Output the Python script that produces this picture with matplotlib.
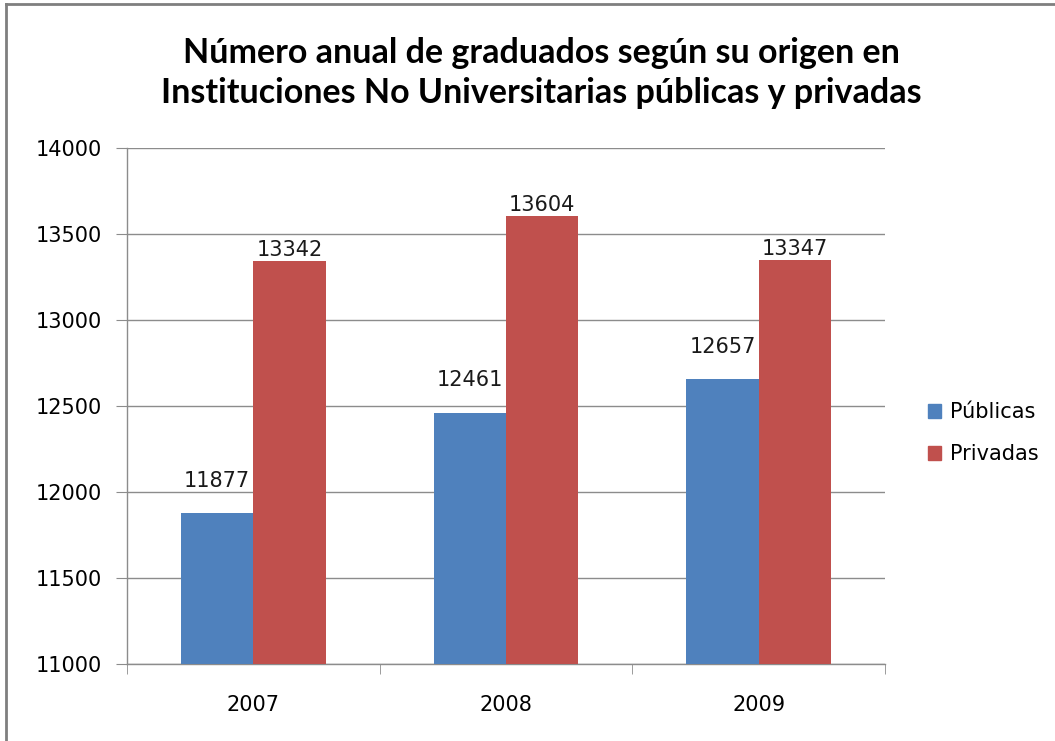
import matplotlib
matplotlib.use("Agg")
import matplotlib.pyplot as plt
import numpy as np
from matplotlib.patches import Patch
from matplotlib.lines import Line2D

years = ["2007", "2008", "2009"]
publicas = [11877, 12461, 12657]
privadas = [13342, 13604, 13347]
series_names = ["Públicas", "Privadas"]
colors = ["#4F81BD", "#C0504D"]
yticks = [11000, 11500, 12000, 12500, 13000, 13500, 14000]

plt.rcParams['font.family'] = ['Lato', 'DejaVu Sans']

fig = plt.figure(figsize=(10.55, 7.41), dpi=100)
ax = fig.add_axes([127/1055, 1-664/741, (885-127)/1055, (664-148)/741])

x = np.arange(len(years))
w = 1/3.5
ax.bar(x - w/2, publicas, width=w, color=colors[0], zorder=3, label=series_names[0])
ax.bar(x + w/2, privadas, width=w, color=colors[1], zorder=3, label=series_names[1])

lab_font = dict(fontsize=15, color='#1a1a1a', family=['DejaVu Sans'])
for xi, v in zip(x - w/2, publicas):
    ax.annotate(str(v), (xi, v), xytext=(0, 16), textcoords='offset points',
                ha='center', va='bottom', **lab_font)
for xi, v in zip(x + w/2, privadas):
    ax.annotate(str(v), (xi, v), xytext=(0, 1), textcoords='offset points',
                ha='center', va='bottom', **lab_font)

ax.set_xlim(-0.5, 2.5)
ax.set_ylim(11000, 14000)
ax.set_yticks(yticks)
ax.set_yticklabels([str(t) for t in yticks], fontsize=15, family=['DejaVu Sans'])
ax.set_xticks(x)
ax.set_xticklabels(years, fontsize=15, family=['DejaVu Sans'])
ax.set_xticks([-0.5, 0.5, 1.5, 2.5], minor=True)
ax.tick_params(axis='x', which='major', length=0, pad=22)
ax.tick_params(axis='x', which='minor', length=7, color='#8c8c8c', direction='out')
ax.tick_params(axis='y', length=8, color='#8c8c8c', pad=10)
ax.yaxis.grid(True, color='#8c8c8c', linewidth=1, zorder=0)
for s in ['top', 'right']:
    ax.spines[s].set_visible(False)
for s in ['left', 'bottom']:
    ax.spines[s].set_color('#8c8c8c')
    ax.spines[s].set_linewidth(1)

fig.text(541/1055, 1-53/741, "Número anual de graduados según su origen en",
         ha='center', va='center', fontsize=24.5, fontweight='bold')
fig.text(541/1055, 1-93/741, "Instituciones No Universitarias públicas y privadas",
         ha='center', va='center', fontsize=24.5, fontweight='bold')

handles = [Patch(color=colors[0]), Patch(color=colors[1])]
fig.legend(handles, series_names, loc='center left', bbox_to_anchor=(909/1055, 1-433/741),
           frameon=False, handlelength=0.65, handleheight=0.65,
           handletextpad=0.4, labelspacing=1.05, prop={'family': ['DejaVu Sans'], 'size': 15})

# figure border (top and left)
fig.add_artist(Line2D([6/1055, 6/1055], [0, 1-4/741], transform=fig.transFigure, color='#7f7f7f', lw=2))
fig.add_artist(Line2D([6/1055, 1], [1-4/741, 1-4/741], transform=fig.transFigure, color='#7f7f7f', lw=2))

fig.savefig("out.png", dpi=100, facecolor='white')
